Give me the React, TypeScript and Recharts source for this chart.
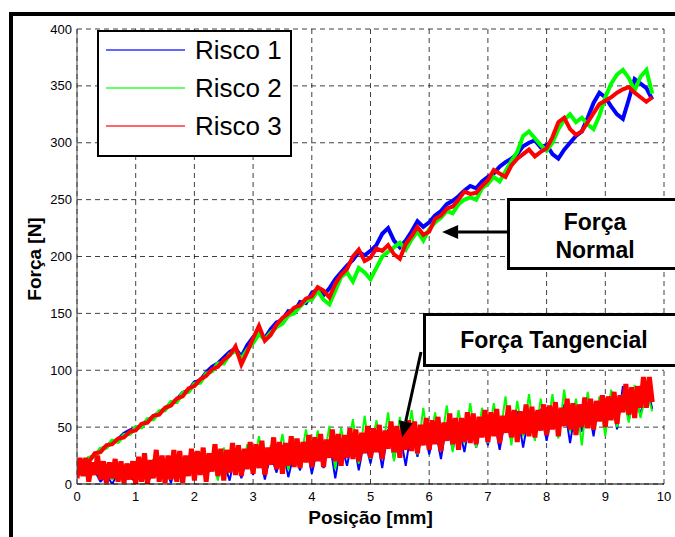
import React from "react";
import { LineChart, Line, XAxis, YAxis, CartesianGrid } from "recharts";

// posição [mm] de cada amostra: forças normais a cada 0.1 mm, tangencial fina a cada 0.05 mm
const PASSO = 0.1;
const PASSO_FINO = 0.05;

const xTicks = [0, 1, 2, 3, 4, 5, 6, 7, 8, 9, 10];
const yTicks = [0, 50, 100, 150, 200, 250, 300, 350, 400];

// Força normal [N]
const normalRisco1 = [
  10, 18, 22, 25, 30, 33, 37, 39, 44, 47,
  49, 51, 56, 59, 63, 66, 71, 74, 80, 82,
  89, 91, 98, 103, 106, 111, 116, 119, 112, 122,
  129, 134, 128, 136, 142, 144, 152, 151, 160, 159,
  168, 171, 166, 172, 180, 186, 192, 197, 204, 201,
  205, 210, 220, 225, 214, 208, 214, 222, 231, 226,
  230, 236, 240, 246, 249, 253, 258, 262, 260, 266,
  270, 273, 279, 283, 286, 290, 297, 300, 302, 296,
  298, 290, 286, 294, 300, 306, 310, 322, 335, 344,
  340, 332, 325, 321, 338, 356, 352, 348, 338,
];
const normalRisco2 = [
  12, 15, 23, 24, 31, 32, 38, 37, 43, 44,
  50, 50, 57, 57, 64, 65, 72, 72, 80, 81,
  88, 89, 97, 99, 106, 106, 114, 117, 110, 118,
  124, 132, 127, 133, 138, 141, 148, 150, 156, 161,
  162, 170, 162, 158, 170, 182, 186, 178, 190, 186,
  180, 190, 200, 204, 208, 212, 206, 215, 222, 214,
  224, 230, 234, 240, 238, 246, 250, 252, 250, 260,
  264, 270, 266, 275, 284, 292, 306, 310, 304, 298,
  293, 300, 312, 320, 325, 318, 322, 316, 312, 324,
  340, 352, 360, 364, 357, 346, 358, 364, 343,
];
const normalRisco3 = [
  8, 16, 19, 27, 28, 34, 35, 40, 41, 46,
  47, 53, 54, 60, 61, 67, 69, 75, 77, 84,
  86, 92, 95, 101, 103, 109, 113, 121, 105, 116,
  128, 139, 126, 131, 140, 146, 150, 155, 157, 163,
  165, 173, 170, 164, 176, 184, 189, 200, 206, 196,
  199, 207, 205, 210, 202, 198, 211, 218, 226, 219,
  222, 233, 236, 242, 244, 250, 257, 255, 256, 262,
  267, 276, 273, 270, 280, 286, 290, 294, 288, 292,
  295, 305, 318, 322, 312, 307, 310, 318, 326, 334,
  337, 340, 344, 347, 349, 344, 340, 336, 340,
];

// Força tangencial [N]
const tangRisco1 = [
  10, 16, 5, 12, 2, 8, 0, 10, 3, 6,
  2, 14, 0, 12, 5, 16, 1, 18, 3, 20,
  4, 22, 2, 25, 6, 20, 3, 28, 5, 24,
  8, 30, 4, 26, 10, 34, 6, 28, 12, 36,
  9, 32, 14, 38, 5, 36, 16, 42, 12, 40,
  18, 44, 14, 48, 22, 46, 16, 50, 24, 52,
  26, 50, 22, 54, 30, 52, 28, 58, 32, 56,
  34, 60, 30, 58, 38, 64, 32, 62, 40, 66,
  38, 64, 44, 70, 36, 68, 46, 72, 42, 76,
  50, 80, 48, 86, 56, 82, 60, 90, 66,
];
const tangRisco2 = [
  14, 22, 10, 18, 6, 14, 4, 12, 2, 10,
  6, 18, 2, 22, 8, 20, 4, 26, 9, 24,
  6, 28, 10, 24, 3, 32, 12, 27, 8, 35,
  14, 42, 9, 34, 16, 44, 12, 40, 18, 48,
  15, 47, 20, 51, 13, 49, 24, 57, 18, 60,
  22, 56, 28, 63, 20, 59, 30, 65, 26, 67,
  30, 63, 34, 69, 28, 65, 36, 71, 32, 67,
  36, 71, 40, 77, 34, 73, 42, 79, 38, 75,
  44, 79, 40, 83, 46, 75, 34, 81, 48, 77,
  42, 83, 50, 79, 54, 87, 58, 81, 64,
];
const tangRisco3 = [
  5, 23, 7, 23, 2, 19, 8, 25, 4, 20, 1, 19, 5, 22, 2, 20, 1, 18, 4, 20,
  0, 24, 2, 27, 0, 21, 5, 30, 2, 25, 1, 25, 4, 30, 2, 29, 1, 25, 7, 31,
  3, 29, 8, 32, 2, 27, 11, 35, 7, 31, 3, 30, 10, 36, 8, 34, 7, 31, 13, 37,
  9, 35, 14, 38, 8, 32, 17, 41, 13, 37, 9, 36, 16, 42, 15, 40, 14, 37, 19, 43,
  15, 41, 20, 44, 15, 39, 23, 48, 20, 44, 16, 43, 23, 49, 22, 48, 20, 45, 27, 51,
  23, 49, 28, 52, 22, 47, 31, 55, 28, 51, 23, 51, 30, 56, 29, 55, 27, 52, 34, 58,
  30, 56, 35, 59, 29, 54, 38, 62, 35, 58, 30, 58, 37, 63, 36, 62, 35, 59, 41, 65,
  37, 63, 42, 66, 36, 60, 45, 69, 41, 65, 37, 64, 44, 70, 42, 68, 41, 65, 47, 70,
  43, 69, 48, 72, 42, 67, 51, 75, 48, 71, 43, 70, 50, 76, 49, 75, 48, 73, 55, 78,
  50, 77, 56, 81, 53, 78, 63, 88, 61, 85, 58, 86, 67, 94, 67, 94, 72,
];

const series = [
  { name: "Risco 1", color: "#0000ff", normal: normalRisco1, tang: tangRisco1, passoTang: PASSO },
  { name: "Risco 2", color: "#00ff00", normal: normalRisco2, tang: tangRisco2, passoTang: PASSO },
  { name: "Risco 3", color: "#ff0000", normal: normalRisco3, tang: tangRisco3, passoTang: PASSO_FINO },
];

const toRows = (values: number[], passo: number) =>
  values.map((v, i) => ({ x: Math.round(i * passo * 100) / 100, y: v }));

const W = 675;
const H = 537;
const M = { top: 29, right: 11, left: 37, bottom: 33 };
const Y_AXIS_W = 40;
const X_AXIS_H = 20;
const plotLeft = M.left + Y_AXIS_W;
const plotRight = W - M.right;
const plotTop = M.top;
const plotBottom = H - M.bottom - X_AXIS_H;

// data -> pixel, only used to place the annotation arrows
const px = (x: number) => plotLeft + (x / 10) * (plotRight - plotLeft);
const py = (y: number) => plotBottom - (y / 400) * (plotBottom - plotTop);

const FONT = "'Liberation Sans', Arial, Helvetica, sans-serif";

function Arrow({ x1, y1, x2, y2 }: { x1: number; y1: number; x2: number; y2: number }) {
  const dx = x2 - x1;
  const dy = y2 - y1;
  const len = Math.hypot(dx, dy);
  const ux = dx / len;
  const uy = dy / len;
  const head = 16;
  const half = 7;
  const bx = x2 - ux * head;
  const by = y2 - uy * head;
  return (
    <g>
      <line x1={x1} y1={y1} x2={bx} y2={by} stroke="#000" strokeWidth={3} />
      <polygon
        points={`${x2},${y2} ${bx - uy * half},${by + ux * half} ${bx + uy * half},${by - ux * half}`}
        fill="#000"
      />
    </g>
  );
}

export default function App() {
  const tick = { fontSize: 13, fill: "#000", fontFamily: FONT };

  return (
    <div
      style={{
        position: "absolute",
        left: 0,
        top: 0,
        width: W,
        height: H,
        background: "#fff",
        overflow: "hidden",
        fontFamily: FONT,
      }}
    >
      <LineChart width={W} height={H} margin={M}>
        <CartesianGrid stroke="#000" strokeOpacity={0.75} strokeDasharray="5 4" />
        <XAxis
          type="number"
          dataKey="x"
          domain={[0, 10]}
          ticks={xTicks}
          height={X_AXIS_H}
          tick={tick}
          tickLine={false}
          axisLine={{ stroke: "#000" }}
          allowDataOverflow
        />
        <YAxis
          type="number"
          dataKey="y"
          domain={[0, 400]}
          ticks={yTicks}
          width={Y_AXIS_W}
          tick={tick}
          tickLine={false}
          tickSize={2}
          tickMargin={3}
          axisLine={{ stroke: "#444" }}
          allowDataOverflow
        />
        {series.map((s) => (
          <Line
            key={s.name + "-n"}
            data={toRows(s.normal, PASSO)}
            dataKey="y"
            type="linear"
            stroke={s.color}
            strokeWidth={4}
            dot={false}
            isAnimationActive={false}
          />
        ))}
        {series.map((s) => (
          <Line
            key={s.name + "-t"}
            data={toRows(s.tang, s.passoTang)}
            dataKey="y"
            type="linear"
            stroke={s.color}
            strokeWidth={s.passoTang === PASSO_FINO ? 5 : 2}
            strokeLinejoin="bevel"
            dot={false}
            isAnimationActive={false}
          />
        ))}
      </LineChart>

      {/* frame */}
      <div style={{ position: "absolute", left: 9, top: 12, width: 700, height: 600, borderTop: "4px solid #000", borderLeft: "4px solid #000" }} />

      {/* axis titles */}
      <div style={{ position: "absolute", left: 0, top: 507, width: 741, textAlign: "center", fontWeight: "bold", fontSize: 19, lineHeight: "22px" }}>
        Posição [mm]
      </div>
      <div
        style={{
          position: "absolute",
          left: 35,
          top: 259,
          transform: "translate(-50%, -50%) rotate(-90deg)",
          fontWeight: "bold",
          fontSize: 19,
          whiteSpace: "nowrap",
        }}
      >
        Força [N]
      </div>

      {/* arrows */}
      <svg width={W} height={H} style={{ position: "absolute", left: 0, top: 0 }}>
        <Arrow x1={507} y1={py(221.5)} x2={px(6.22)} y2={py(221.5)} />
        <Arrow x1={421} y1={352} x2={px(5.54)} y2={py(41)} />
      </svg>

      {/* legend */}
      <div
        style={{
          position: "absolute",
          left: 97,
          top: 30,
          width: 195,
          height: 127,
          boxSizing: "border-box",
          border: "2px solid #000",
          background: "#fff",
        }}
      >
        {series.map((s, i) => (
          <div key={s.name} style={{ position: "absolute", left: 0, top: 18 + i * 38 - 15, height: 30, width: 191 }}>
            <svg width={82} height={30} style={{ position: "absolute", left: 7, top: 0 }}>
              <line x1={0} y1={15} x2={79} y2={15} stroke={s.color} strokeOpacity={0.6} strokeWidth={2} />
            </svg>
            <span style={{ position: "absolute", left: 96, top: 0, fontSize: 26, lineHeight: "30px", whiteSpace: "nowrap" }}>
              {s.name}
            </span>
          </div>
        ))}
      </div>

      {/* annotation boxes */}
      <div
        style={{
          position: "absolute",
          left: 507,
          top: 198,
          width: 176,
          height: 72,
          boxSizing: "border-box",
          border: "3px solid #000",
          background: "#fff",
          textAlign: "center",
          fontWeight: "bold",
          fontSize: 23,
          lineHeight: "28px",
          paddingTop: 7,
        }}
      >
        Força
        <br />
        Normal
      </div>
      <div
        style={{
          position: "absolute",
          left: 423,
          top: 313,
          width: 262,
          height: 54,
          boxSizing: "border-box",
          border: "3px solid #000",
          background: "#fff",
          textAlign: "center",
          fontWeight: "bold",
          fontSize: 23,
          lineHeight: "48px",
        }}
      >
        Força Tangencial
      </div>
    </div>
  );
}
